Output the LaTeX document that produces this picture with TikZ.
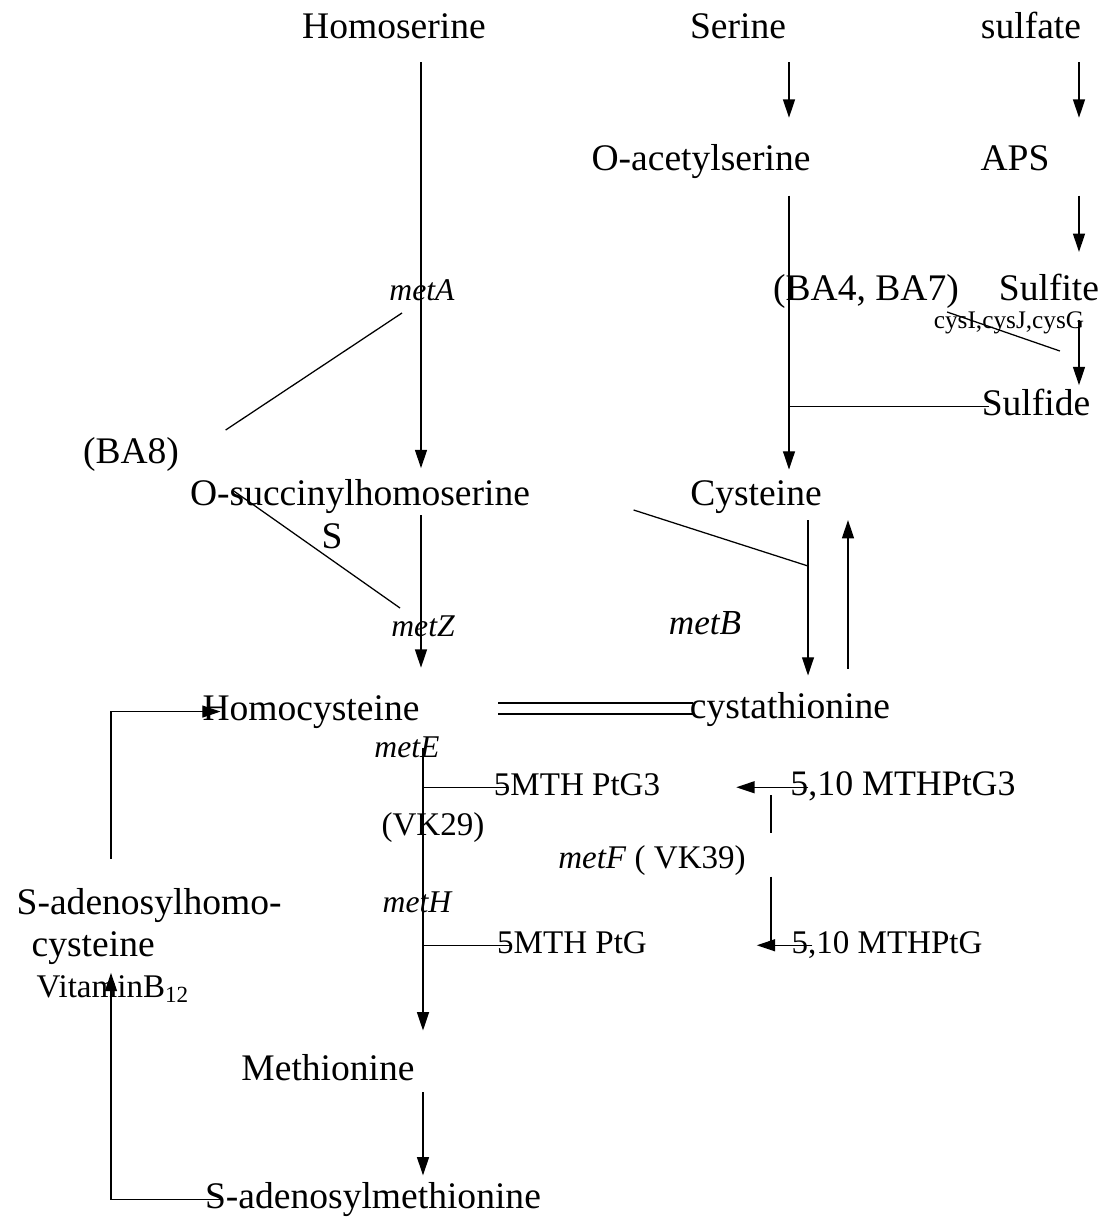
\documentclass[tikz,border=0pt]{standalone}
\usepackage{fontspec}
\setmainfont{Liberation Serif}
\usetikzlibrary{arrows.meta,calc}

\begin{document}
\begin{tikzpicture}[
  x=0.025cm, y=-0.025cm,
  chem/.style={font=\fontsize{26.7}{30}\selectfont, anchor=base, inner sep=1pt, text height=18pt, text depth=6pt},
  cofac/.style={font=\fontsize{23.5}{27}\selectfont, anchor=base, inner sep=1pt, text height=16pt, text depth=5pt},
  gene/.style={font=\fontsize{22.5}{25}\selectfont\itshape, anchor=base, inner sep=1pt},
  enzlab/.style={font=\fontsize{18}{20}\selectfont, anchor=base, inner sep=1pt},
  flow/.style={line width=1pt, -{Triangle[length=13pt,width=8.5pt]}},
  link/.style={line width=0.9pt}
]
\useasboundingbox (0,0) rectangle (1103,1218);

\node[chem] (homoserine) at (394,38) {Homoserine};
\node[chem] (serine) at (738,38) {Serine};
\node[chem] (sulfate) at (1031,38) {sulfate};
\node[chem] (oacser) at (701,170) {O-acetylserine};
\node[chem] (aps) at (1015,170) {APS};
\node[gene] (metA) at (422,300) {metA};
\node[chem] (ba47) at (866,300) {(BA4, BA7)};
\node[chem] (sulfite) at (1049,300) {Sulfite};
\node[enzlab] (cys) at (1009,328) {cysI,cysJ,cysG};
\node[chem] (sulfide) at (1036,415) {Sulfide};
\node[chem] (ba8) at (131,463) {(BA8)};
\node[chem] (osuc) at (360,505) {O-succinylhomoserine};
\node[chem] (cysteine) at (756,505) {Cysteine};
\node[chem] (slab) at (332,548) {S};
\node[gene] (metZ) at (423,636) {metZ};
\node[gene, font=\fontsize{25}{28}\selectfont\itshape] (metB) at (705,634) {metB};
\node[chem] (homocys) at (311,720) {Homocysteine};
\node[chem] (cysta) at (790,718) {cystathionine};
\node[gene] (metE) at (407,757) {metE};
\node[cofac] (mthA) at (577,795) {5MTH PtG3};
\node[cofac, font=\fontsize{25.5}{28}\selectfont] (mthfA) at (903,795) {5,10 MTHPtG3};
\node[cofac] (vk29) at (433,835) {(VK29)};
\node[cofac] (metF) at (652,868) {\textit{metF} ( VK39)};
\node[chem, anchor=base west] (sahA) at (15,914) {S-adenosylhomo-};
\node[chem, anchor=base west] (sahB) at (30,956) {cysteine};
\node[gene] (metH) at (417,912) {metH};
\node[cofac] (mthB) at (572,953) {5MTH PtG};
\node[cofac] (mthfB) at (887,953) {5,10 MTHPtG};
\node[cofac, anchor=base west] (vitB) at (35,997) {VitaminB\textsubscript{12}};
\node[chem] (methionine) at (328,1080) {Methionine};
\node[chem] (sam) at (373,1208) {S-adenosylmethionine};

\coordinate (colM) at (421,0);
\coordinate (colL) at (423,0);
\coordinate (colS) at (789,0);
\coordinate (colR) at (1079,0);
\coordinate (colU) at (848,0);
\coordinate (colF) at (771,0);
\coordinate (colX) at (111,0);
\coordinate (jB) at (808,566);

\draw[flow, shorten <=10pt, shorten >=7pt] (homoserine.south -| colM) -- (osuc.north -| colM);
\draw[flow, shorten <=10pt, shorten >=18pt] (serine.south -| colS) -- (oacser.north -| colS);
\draw[flow, shorten <=10pt, shorten >=18pt] (sulfate.south -| colR) -- (aps.north -| colR);
\draw[flow, shorten <=11pt, shorten >=15pt] (aps.south -| colR) -- (sulfite.north -| colR);
\draw[flow, shorten <=11pt, shorten >=6pt] (oacser.south -| colS) -- (cysteine.north -| colS);
\draw[flow, shorten <=7pt, shorten >=2pt] (sulfite.south -| colR) -- (sulfide.north -| colR);
\draw[link] ($(cys.base west)+(15,-16)$) -- ($(cys.base east)+(-26,23)$);
\draw[link, shorten <=-6pt] (sulfide.west) -- (sulfide.west -| colS);
\draw[link] ($(metA.base)+(-20,13)$) -- ($(ba8.base east)+(45,-33)$);

\draw[flow, shorten >=18pt] (osuc.south -| colM) -- (homocys.north -| colM);
\draw[link] ($(osuc.base west)+(44,-15)$) -- ($(metZ.base)+(-23,-28)$);
\draw[link] ($(osuc.base east)+(102,5)$) -- (jB);
\draw[flow, shorten <=3.5pt, shorten >=11pt] (cysteine.south -| jB) -- (cysta.north -| jB);
\draw[flow, shorten <=16pt, shorten >=3.5pt] (cysta.north -| colU) -- (cysteine.south -| colU);
\draw[link] ($(homocys.base east)+(77,-17)$) -- ($(cysta.base west)+(5,-15)$);
\draw[link] ($(homocys.base east)+(77,-6)$) -- ($(cysta.base west)+(5,-4)$);

\draw[flow, shorten <=13pt, shorten >=16pt] (homocys.south -| colL) -- (methionine.north -| colL);
\draw[link, shorten >=-10pt] (mthA.west -| colL) -- (mthA.west);
\draw[link, shorten >=-10pt] (mthB.west -| colL) -- (mthB.west);
\draw[flow, shorten <=-14pt, shorten >=53pt] (mthfA.west) -- (mthA.east);
\draw[link, shorten <=-6pt, shorten >=8pt] (mthfA.south -| colF) -- (metF.north -| colF);
\draw[link] (metF.south -| colF) -- (mthfB.west -| colF);
\draw[flow, shorten <=-16pt, shorten >=77pt] (mthfB.west) -- (mthB.east);

\draw[flow, shorten <=20pt, shorten >=-14pt] (sahA.north -| colX) |- (homocys.west);
\draw[flow, shorten <=-14pt] (sam.west) -| (vitB.north -| colX);
\draw[flow, shorten <=1.4pt, shorten >=4pt] (methionine.south -| colL) -- (sam.north -| colL);

\end{tikzpicture}
\end{document}
